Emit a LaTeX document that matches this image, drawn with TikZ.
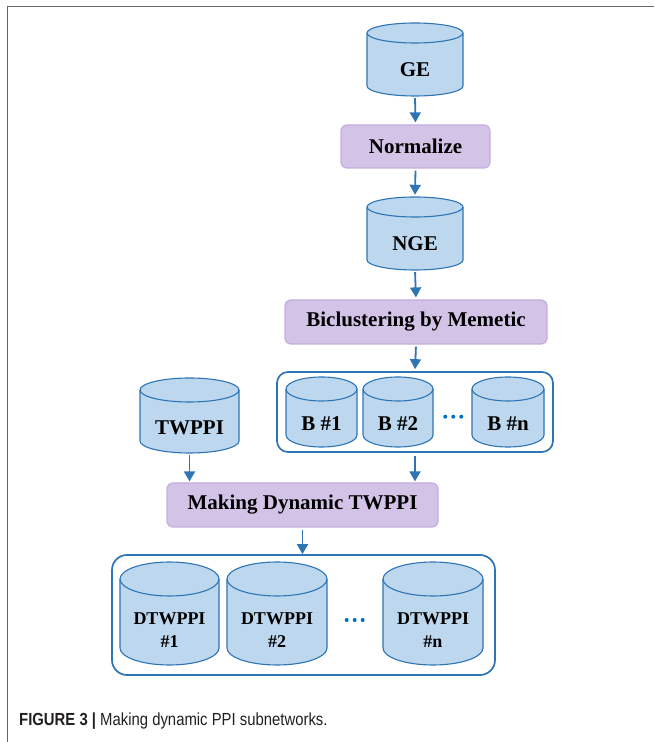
\documentclass[tikz,border=0pt]{standalone}
\usepackage{fontspec}
\setmainfont{Liberation Serif}
\newfontfamily\capfont{Liberation Sans}
\usetikzlibrary{arrows.meta}
\definecolor{cylfill}{HTML}{BDD7EE}
\definecolor{cyldraw}{HTML}{2E75B6}
\definecolor{arrcol}{HTML}{2E75B6}
\definecolor{dotcol}{HTML}{0070C0}
\definecolor{procfill}{HTML}{D3C3E7}
\definecolor{procdraw}{HTML}{C4AEE0}
\definecolor{framecol}{HTML}{666666}
\definecolor{captext}{HTML}{231F20}
\tikzset{
  cylstyle/.style={draw=cyldraw, fill=cylfill, line width=1.1pt},
  cyltext/.style={inner sep=0, font=\bfseries\fontsize{21}{24}\selectfont, align=center},
  cyltextsm/.style={inner sep=0, font=\bfseries\fontsize{18}{23}\selectfont, align=center},
  proc/.style={draw=procdraw, fill=procfill, line width=1.2pt, rounded corners=6pt,
    font=\bfseries\fontsize{21}{24}\selectfont, inner sep=0},
  cont/.style={draw=cyldraw, line width=1.7pt, inner sep=0},
  arr/.style={draw=arrcol, line width=1.8pt, -{Triangle[width=11pt,length=10pt]}},
  dotmark/.style={fill=dotcol},
  framel/.style={draw=framecol, line width=1.3pt}
}
% name, cx, top, bottom, rx, ry, text, text style
\newcommand{\dbcyl}[8]{%
  \pgfmathsetmacro\cyT{742-#3-#6}%
  \pgfmathsetmacro\cyB{742-#4+#6}%
  \filldraw[cylstyle] ({#2-#5},\cyT) -- ({#2-#5},\cyB)
    arc[start angle=180,end angle=360,x radius=#5,y radius=#6]
    -- ({#2+#5},\cyT)
    arc[start angle=0,end angle=180,x radius=#5,y radius=#6] -- cycle;
  \draw[cylstyle, fill=none] ({#2-#5},\cyT) arc[start angle=180,end angle=360,x radius=#5,y radius=#6];
  \node[inner sep=0, minimum width={2*#5}, minimum height={#4-#3}] (#1) at (#2,{742-(#3+#4)/2}) {};
  \node[#8] (#1t) at (#2,{742-(#3+2*#6+#4)/2}) {#7};
}
% three dots: centre x, y (pixel, from top)
\newcommand{\threedots}[2]{%
  \foreach \dx in {-8,0,8} {\fill[dotmark] ({#1+\dx},{742-#2}) circle[radius=2];}%
}
\begin{document}
\begin{tikzpicture}[x=1pt,y=1pt]
\useasboundingbox (0,0) rectangle (654,742);
% frame
\draw[framel] (7.5,0) -- (7.5,735.5) -- (654,735.5);

% top column
\dbcyl{ge}{415}{23}{96}{48}{10}{GE}{cyltext}
\node[proc, minimum width=149, minimum height=43] (norm) at (415.5,{742-146.5}) {Normalize};
\dbcyl{nge}{415}{197}{270}{48}{10}{NGE}{cyltext}
\node[proc, minimum width=262, minimum height=44] (bicl) at (416,{742-322}) {Biclustering by Memetic};

% bicluster container
\node[cont, rounded corners=11pt, minimum width=276, minimum height=80] (bcont) at (415,{742-412}) {};
\dbcyl{b1}{321.5}{377}{447}{35.5}{12}{B \#1}{cyltext}
\dbcyl{b2}{398}{377}{447}{35}{12}{B \#2}{cyltext}
\threedots{453.3}{416.7}
\dbcyl{bn}{508}{377}{447}{36}{12}{B \#n}{cyltext}

% TWPPI
\dbcyl{tw}{189.5}{378}{453}{49.5}{12}{TWPPI}{cyltext}

\node[proc, minimum width=271, minimum height=44] (mk) at (302.5,{742-505}) {Making Dynamic TWPPI};

% DTWPPI container
\node[cont, rounded corners=15pt, minimum width=383, minimum height=120] (dcont) at (303.5,{742-615}) {};
\dbcyl{d1}{169.5}{562}{665}{49.5}{17}{DTWPPI\\\#1}{cyltextsm}
\dbcyl{d2}{277}{562}{665}{50}{17}{DTWPPI\\\#2}{cyltextsm}
\threedots{354.7}{620}
\dbcyl{dn}{433}{562}{665}{50}{17}{DTWPPI\\\#n}{cyltextsm}

% arrows
\draw[arr, shorten <=2pt, shorten >=2pt] (ge.south) -- (norm.north);
\draw[arr, shorten <=2pt, shorten >=2pt] (norm.south) -- (nge.north);
\draw[arr, shorten <=2pt, shorten >=2pt] (nge.south) -- (bicl.north);
\draw[arr, shorten <=2pt, shorten >=2pt] (bicl.south) -- (bcont.north);
\draw[arr, shorten <=2pt, shorten >=1pt] (tw.south) -- (tw.south |- mk.north);
\draw[arr, shorten <=3pt, shorten >=1pt] (bcont.south) -- (bcont.south |- mk.north);
\draw[arr, shorten <=2pt, shorten >=0pt] (mk.south) -- (mk.south |- dcont.north);

% caption
\node[anchor=base west, inner sep=0, text=captext] (cap) at (19,{742-725.5})
  {\scalebox{0.85}[1]{\capfont\fontsize{17.5}{20}\selectfont\textbf{FIGURE 3 |} Making dynamic PPI subnetworks.}};
\end{tikzpicture}
\end{document}
